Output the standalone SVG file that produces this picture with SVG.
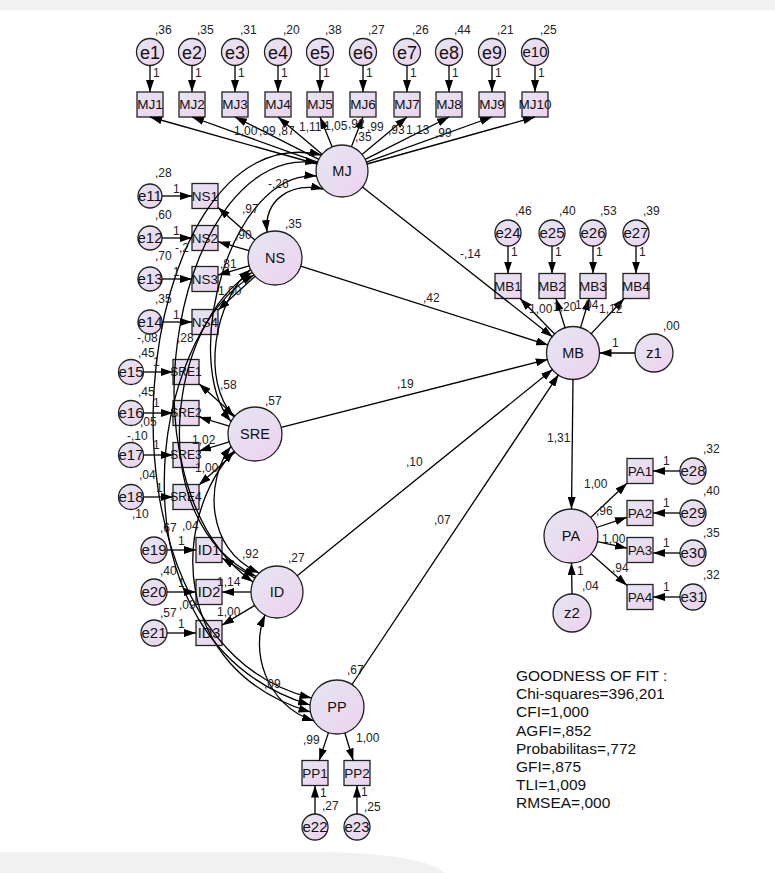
<svg xmlns="http://www.w3.org/2000/svg" width="775" height="873" viewBox="0 0 775 873">
<defs>
<linearGradient id="fg" x1="0" y1="0" x2="1" y2="1"><stop offset="0" stop-color="#e4e6f2"/><stop offset="1" stop-color="#eed2ee"/></linearGradient>
<marker id="ah" viewBox="0 0 12 8" refX="12" refY="4" markerWidth="12" markerHeight="8" markerUnits="userSpaceOnUse" orient="auto-start-reverse"><path d="M0,0 L12,4 L0,8 Z" fill="#000"/></marker>
</defs>
<style>
.n circle, .n rect { fill:url(#fg); stroke:#222; stroke-width:1.3; }
text { font-family:"Liberation Sans", Arial, sans-serif; fill:#222; }
.n text.t { text-anchor:middle; fill:#111; }
.v { font-size:12px; }
.a { fill:none; stroke:#000; stroke-width:1.3; marker-end:url(#ah); }
.c { fill:none; stroke:#000; stroke-width:1.3; marker-start:url(#ah); marker-end:url(#ah); }
.gof { font-size:15.5px; fill:#111; }
.s18 { font-size:18px; } .s15 { font-size:15px; } .s14 { font-size:14.5px; } .s13 { font-size:13.5px; } .s12 { font-size:12px; }
</style>
<rect x="0" y="0" width="775" height="873" fill="#fff"/>
<rect x="0" y="0" width="775" height="10" fill="#f1f1f1"/>
<path d="M0,852 L310,852 Q420,852 445,873 L0,873 Z" fill="#f1f1f1"/>

<g id="nodes">
<g id="e1" class="n"><circle cx="150" cy="52" r="13.5"/><text class="t s18" x="150" y="58.5">e1</text><text class="v" x="155" y="34">,36</text></g>
<g id="e2" class="n"><circle cx="192" cy="52" r="13.5"/><text class="t s18" x="192" y="58.5">e2</text><text class="v" x="197" y="34">,35</text></g>
<g id="e3" class="n"><circle cx="235" cy="52" r="13.5"/><text class="t s18" x="235" y="58.5">e3</text><text class="v" x="240" y="34">,31</text></g>
<g id="e4" class="n"><circle cx="278" cy="52" r="13.5"/><text class="t s18" x="278" y="58.5">e4</text><text class="v" x="283" y="34">,20</text></g>
<g id="e5" class="n"><circle cx="320" cy="52" r="13.5"/><text class="t s18" x="320" y="58.5">e5</text><text class="v" x="325" y="34">,38</text></g>
<g id="e6" class="n"><circle cx="363" cy="52" r="13.5"/><text class="t s18" x="363" y="58.5">e6</text><text class="v" x="368" y="34">,27</text></g>
<g id="e7" class="n"><circle cx="407" cy="52" r="13.5"/><text class="t s18" x="407" y="58.5">e7</text><text class="v" x="412" y="34">,26</text></g>
<g id="e8" class="n"><circle cx="449" cy="52" r="13.5"/><text class="t s18" x="449" y="58.5">e8</text><text class="v" x="454" y="34">,44</text></g>
<g id="e9" class="n"><circle cx="492" cy="52" r="13.5"/><text class="t s18" x="492" y="58.5">e9</text><text class="v" x="497" y="34">,21</text></g>
<g id="e10" class="n"><circle cx="535" cy="52" r="13.5"/><text class="t s15" x="535" y="57.4">e10</text><text class="v" x="540" y="34">,25</text></g>

<g id="MJ1" class="n"><rect x="137" y="92" width="26" height="25"/><text class="t s13" x="150" y="109.3">MJ1</text></g>
<g id="MJ2" class="n"><rect x="179" y="92" width="26" height="25"/><text class="t s13" x="192" y="109.3">MJ2</text></g>
<g id="MJ3" class="n"><rect x="222" y="92" width="26" height="25"/><text class="t s13" x="235" y="109.3">MJ3</text></g>
<g id="MJ4" class="n"><rect x="265" y="92" width="26" height="25"/><text class="t s13" x="278" y="109.3">MJ4</text></g>
<g id="MJ5" class="n"><rect x="307" y="92" width="26" height="25"/><text class="t s13" x="320" y="109.3">MJ5</text></g>
<g id="MJ6" class="n"><rect x="350" y="92" width="26" height="25"/><text class="t s13" x="363" y="109.3">MJ6</text></g>
<g id="MJ7" class="n"><rect x="394" y="92" width="26" height="25"/><text class="t s13" x="407" y="109.3">MJ7</text></g>
<g id="MJ8" class="n"><rect x="436" y="92" width="26" height="25"/><text class="t s13" x="449" y="109.3">MJ8</text></g>
<g id="MJ9" class="n"><rect x="479" y="92" width="26" height="25"/><text class="t s13" x="492" y="109.3">MJ9</text></g>
<g id="MJ10" class="n"><rect x="522" y="92" width="26" height="25"/><text class="t s13" x="535" y="109.3">MJ10</text></g>

<g id="MJ" class="n"><circle cx="342" cy="171" r="26"/><text class="t s14" x="342" y="176.2">MJ</text><text class="v" x="355" y="141">,35</text></g>

<g id="e11" class="n"><circle cx="150" cy="196" r="12"/><text class="t s15" x="150" y="201.4">e11</text><text class="v" x="155" y="177">,28</text></g>
<g id="e12" class="n"><circle cx="150" cy="238" r="12"/><text class="t s15" x="150" y="243.4">e12</text><text class="v" x="155" y="219">,60</text></g>
<g id="e13" class="n"><circle cx="150" cy="279" r="12"/><text class="t s15" x="150" y="284.4">e13</text><text class="v" x="155" y="260">,70</text></g>
<g id="e14" class="n"><circle cx="150" cy="322" r="12"/><text class="t s15" x="150" y="327.4">e14</text><text class="v" x="155" y="303">,35</text></g>
<g id="NS1" class="n"><rect x="192" y="183.5" width="26" height="25"/><text class="t s13" x="205" y="200.8">NS1</text></g>
<g id="NS2" class="n"><rect x="192" y="225.5" width="26" height="25"/><text class="t s13" x="205" y="242.8">NS2</text></g>
<g id="NS3" class="n"><rect x="192" y="266.5" width="26" height="25"/><text class="t s13" x="205" y="283.8">NS3</text></g>
<g id="NS4" class="n"><rect x="192" y="309.5" width="26" height="25"/><text class="t s13" x="205" y="326.8">NS4</text></g>
<g id="NS" class="n"><circle cx="275" cy="258" r="27"/><text class="t s14" x="275" y="263.2">NS</text><text class="v" x="285" y="228">,35</text></g>

<g id="e15" class="n"><circle cx="131" cy="372" r="12.5"/><text class="t s15" x="131" y="377.4">e15</text><text class="v" x="138" y="357">,45</text></g>
<g id="e16" class="n"><circle cx="131" cy="413" r="12.5"/><text class="t s15" x="131" y="418.4">e16</text><text class="v" x="138" y="396">,45</text></g>
<g id="e17" class="n"><circle cx="131" cy="455" r="12.5"/><text class="t s15" x="131" y="460.4">e17</text><text class="v" x="127" y="440">-,10</text></g>
<g id="e18" class="n"><circle cx="131" cy="497" r="12.5"/><text class="t s15" x="131" y="502.4">e18</text><text class="v" x="139" y="479">,04</text></g>
<g id="SRE1" class="n"><rect x="173" y="359.5" width="26" height="25"/><text class="t s12" x="186" y="376.3">SRE1</text></g>
<g id="SRE2" class="n"><rect x="173" y="400.5" width="26" height="25"/><text class="t s12" x="186" y="417.3">SRE2</text></g>
<g id="SRE3" class="n"><rect x="173" y="442.5" width="26" height="25"/><text class="t s12" x="186" y="459.3">SRE3</text></g>
<g id="SRE4" class="n"><rect x="173" y="484.5" width="26" height="25"/><text class="t s12" x="186" y="501.3">SRE4</text></g>
<g id="SRE" class="n"><circle cx="255" cy="434" r="27"/><text class="t s14" x="255" y="439.2">SRE</text><text class="v" x="265" y="405">,57</text></g>

<g id="e19" class="n"><circle cx="154" cy="550" r="13"/><text class="t s15" x="154" y="555.4">e19</text><text class="v" x="160" y="532">,67</text></g>
<g id="e20" class="n"><circle cx="154" cy="592" r="13"/><text class="t s15" x="154" y="597.4">e20</text><text class="v" x="160" y="575">,40</text></g>
<g id="e21" class="n"><circle cx="154" cy="633" r="13"/><text class="t s15" x="154" y="638.4">e21</text><text class="v" x="160" y="617">,57</text></g>
<g id="ID1" class="n"><rect x="196" y="537.5" width="26" height="25"/><text class="t s14" x="209" y="555.2">ID1</text></g>
<g id="ID2" class="n"><rect x="196" y="579.5" width="26" height="25"/><text class="t s14" x="209" y="597.2">ID2</text></g>
<g id="ID3" class="n"><rect x="196" y="620.5" width="26" height="25"/><text class="t s14" x="209" y="638.2">ID3</text></g>
<g id="ID" class="n"><circle cx="277" cy="592" r="26"/><text class="t s14" x="277" y="597.2">ID</text><text class="v" x="288" y="562">,27</text></g>

<g id="PP" class="n"><circle cx="337" cy="707" r="27"/><text class="t s14" x="337" y="712.2">PP</text><text class="v" x="347" y="674">,67</text></g>
<g id="PP1" class="n"><rect x="302" y="760.5" width="26" height="25"/><text class="t s13" x="315" y="777.8">PP1</text></g>
<g id="PP2" class="n"><rect x="344" y="760.5" width="26" height="25"/><text class="t s13" x="357" y="777.8">PP2</text></g>
<g id="e22" class="n"><circle cx="315" cy="827" r="13"/><text class="t s15" x="315" y="832.4">e22</text><text class="v" x="322" y="810">,27</text></g>
<g id="e23" class="n"><circle cx="357" cy="827" r="13"/><text class="t s15" x="357" y="832.4">e23</text><text class="v" x="364" y="811">,25</text></g>

<g id="e24" class="n"><circle cx="508" cy="233" r="13"/><text class="t s15" x="508" y="238.4">e24</text><text class="v" x="515" y="215">,46</text></g>
<g id="e25" class="n"><circle cx="552" cy="233" r="13"/><text class="t s15" x="552" y="238.4">e25</text><text class="v" x="559" y="215">,40</text></g>
<g id="e26" class="n"><circle cx="593" cy="233" r="13"/><text class="t s15" x="593" y="238.4">e26</text><text class="v" x="600" y="215">,53</text></g>
<g id="e27" class="n"><circle cx="636" cy="233" r="13"/><text class="t s15" x="636" y="238.4">e27</text><text class="v" x="643" y="215">,39</text></g>
<g id="MB1" class="n"><rect x="495" y="273.5" width="26" height="25"/><text class="t s13" x="508" y="290.8">MB1</text></g>
<g id="MB2" class="n"><rect x="539" y="273.5" width="26" height="25"/><text class="t s13" x="552" y="290.8">MB2</text></g>
<g id="MB3" class="n"><rect x="580" y="273.5" width="26" height="25"/><text class="t s13" x="593" y="290.8">MB3</text></g>
<g id="MB4" class="n"><rect x="623" y="273.5" width="26" height="25"/><text class="t s13" x="636" y="290.8">MB4</text></g>
<g id="MB" class="n"><circle cx="573" cy="353" r="26.5"/><text class="t s14" x="573" y="358.2">MB</text></g>
<g id="z1" class="n"><circle cx="654" cy="353" r="19"/><text class="t s15" x="654" y="358.4">z1</text><text class="v" x="663" y="330">,00</text></g>

<g id="PA" class="n"><circle cx="571" cy="536" r="27"/><text class="t s14" x="571" y="541.2">PA</text></g>
<g id="PA1" class="n"><rect x="627" y="458.5" width="26" height="25"/><text class="t s13" x="640" y="475.8">PA1</text></g>
<g id="PA2" class="n"><rect x="627" y="500.5" width="26" height="25"/><text class="t s13" x="640" y="517.8">PA2</text></g>
<g id="PA3" class="n"><rect x="627" y="537.5" width="26" height="25"/><text class="t s13" x="640" y="554.8">PA3</text></g>
<g id="PA4" class="n"><rect x="627" y="584.5" width="26" height="25"/><text class="t s13" x="640" y="601.8">PA4</text></g>
<g id="e28" class="n"><circle cx="693" cy="471" r="13"/><text class="t s15" x="693" y="476.4">e28</text><text class="v" x="703" y="453">,32</text></g>
<g id="e29" class="n"><circle cx="693" cy="513" r="13"/><text class="t s15" x="693" y="518.4">e29</text><text class="v" x="703" y="495">,40</text></g>
<g id="e30" class="n"><circle cx="693" cy="553" r="13"/><text class="t s15" x="693" y="558.4">e30</text><text class="v" x="703" y="537">,35</text></g>
<g id="e31" class="n"><circle cx="693" cy="597" r="13"/><text class="t s15" x="693" y="602.4">e31</text><text class="v" x="703" y="579">,32</text></g>
<g id="z2" class="n"><circle cx="572" cy="613" r="19"/><text class="t s15" x="572" y="618.4">z2</text><text class="v" x="582" y="590">,04</text></g>
</g>

<g id="connectors">
<line class="a" x1="150" y1="65.5" x2="150" y2="92"/>
<line class="a" x1="192" y1="65.5" x2="192" y2="92"/>
<line class="a" x1="235" y1="65.5" x2="235" y2="92"/>
<line class="a" x1="278" y1="65.5" x2="278" y2="92"/>
<line class="a" x1="320" y1="65.5" x2="320" y2="92"/>
<line class="a" x1="363" y1="65.5" x2="363" y2="92"/>
<line class="a" x1="407" y1="65.5" x2="407" y2="92"/>
<line class="a" x1="449" y1="65.5" x2="449" y2="92"/>
<line class="a" x1="492" y1="65.5" x2="492" y2="92"/>
<line class="a" x1="535" y1="65.5" x2="535" y2="92"/>
<line class="a" x1="317" y1="164" x2="150" y2="117"/>
<line class="a" x1="317.5" y1="162.2" x2="192" y2="117"/>
<line class="a" x1="318.8" y1="159.3" x2="235" y2="117"/>
<line class="a" x1="322.1" y1="154.2" x2="278" y2="117"/>
<line class="a" x1="332.2" y1="146.9" x2="320" y2="117"/>
<line class="a" x1="351.4" y1="146.7" x2="363" y2="117"/>
<line class="a" x1="362" y1="154.4" x2="407" y2="117"/>
<line class="a" x1="365.2" y1="159.3" x2="449" y2="117"/>
<line class="a" x1="366.5" y1="162.2" x2="492" y2="117"/>
<line class="a" x1="367" y1="164" x2="535" y2="117"/>
<line class="a" x1="162" y1="196" x2="192" y2="196"/>
<line class="a" x1="162" y1="238" x2="192" y2="238"/>
<line class="a" x1="162" y1="279" x2="192" y2="279"/>
<line class="a" x1="162" y1="322" x2="192" y2="322"/>
<line class="a" x1="254.8" y1="240.1" x2="218" y2="207.5"/>
<line class="a" x1="249" y1="250.6" x2="218" y2="241.7"/>
<line class="a" x1="249.1" y1="265.8" x2="218" y2="275.1"/>
<line class="a" x1="255.1" y1="276.2" x2="218" y2="310.1"/>
<line class="a" x1="143.5" y1="372" x2="173" y2="372"/>
<line class="a" x1="143.5" y1="413" x2="173" y2="413"/>
<line class="a" x1="143.5" y1="455" x2="173" y2="455"/>
<line class="a" x1="143.5" y1="497" x2="173" y2="497"/>
<line class="a" x1="234.9" y1="416" x2="199" y2="383.7"/>
<line class="a" x1="229.2" y1="426.1" x2="199" y2="417"/>
<line class="a" x1="229.2" y1="441.9" x2="199" y2="451"/>
<line class="a" x1="235" y1="452.2" x2="199" y2="485.1"/>
<line class="a" x1="167" y1="550" x2="196" y2="550"/>
<line class="a" x1="167" y1="592" x2="196" y2="592"/>
<line class="a" x1="167" y1="633" x2="196" y2="633"/>
<line class="a" x1="254.9" y1="578.3" x2="222" y2="558"/>
<line class="a" x1="251" y1="592" x2="222" y2="592"/>
<line class="a" x1="254.7" y1="605.4" x2="222" y2="625.2"/>
<line class="a" x1="328.5" y1="732.6" x2="319.2" y2="760.5"/>
<line class="a" x1="344.8" y1="732.8" x2="353.2" y2="760.5"/>
<line class="a" x1="315" y1="814" x2="315" y2="785.5"/>
<line class="a" x1="357" y1="814" x2="357" y2="785.5"/>
<line class="a" x1="508" y1="246" x2="508" y2="273.5"/>
<line class="a" x1="552" y1="246" x2="552" y2="273.5"/>
<line class="a" x1="593" y1="246" x2="593" y2="273.5"/>
<line class="a" x1="636" y1="246" x2="636" y2="273.5"/>
<line class="a" x1="554.9" y1="334.3" x2="520.1" y2="298.5"/>
<line class="a" x1="565.2" y1="328.2" x2="555.9" y2="298.5"/>
<line class="a" x1="580.4" y1="328.1" x2="589.3" y2="298.5"/>
<line class="a" x1="590.8" y1="334.1" x2="624.2" y2="298.5"/>
<line class="a" x1="635" y1="353" x2="599.5" y2="353"/>
<line class="a" x1="362.4" y1="187.1" x2="552.6" y2="336.9"/>
<line class="a" x1="300.7" y1="266.2" x2="548.2" y2="345.1"/>
<line class="a" x1="281.2" y1="427.3" x2="547.8" y2="359.4"/>
<line class="a" x1="297.2" y1="575.7" x2="552.8" y2="369.3"/>
<line class="a" x1="352" y1="684.5" x2="558.6" y2="374.6"/>
<line class="a" x1="573" y1="379.5" x2="571.5" y2="509"/>
<line class="a" x1="590.7" y1="517.5" x2="627" y2="483.2"/>
<line class="a" x1="596.6" y1="527.5" x2="627" y2="517.3"/>
<line class="a" x1="597.4" y1="541.7" x2="627" y2="548.2"/>
<line class="a" x1="591.2" y1="553.9" x2="627" y2="585.5"/>
<line class="a" x1="680" y1="471" x2="653" y2="471"/>
<line class="a" x1="680" y1="513" x2="653" y2="513"/>
<line class="a" x1="680" y1="553" x2="653" y2="553"/>
<line class="a" x1="680" y1="597" x2="653" y2="597"/>
<line class="a" x1="572" y1="594" x2="571.5" y2="563"/>
<path class="c" d="M267,232 C264,200 290,182 323,189"/>
<path class="c" d="M316.5,176 C230,170 180,360 231,421.6"/>
<path class="c" d="M317.3,163 C180,140 110,480 253,582"/>
<path class="c" d="M321.5,155 C130,110 70,640 311.5,698"/>
<path class="c" d="M250.5,269.5 C215,300 200,380 234,417"/>
<path class="c" d="M252,272.5 C170,320 140,520 256,576.4"/>
<path class="c" d="M254,275 C150,330 100,640 310,705"/>
<path class="c" d="M231,446.4 C205,480 205,550 259.5,573"/>
<path class="c" d="M234,451 C170,520 170,670 310.5,712"/>
<path class="c" d="M265,615 C250,650 265,705 314,721"/>
</g>

<g id="labels" class="v">
<text x="153" y="77">1</text><text x="195" y="77">1</text><text x="238" y="77">1</text><text x="281" y="77">1</text><text x="323" y="77">1</text>
<text x="366" y="77">1</text><text x="410" y="77">1</text><text x="452" y="77">1</text><text x="495" y="77">1</text><text x="538" y="77">1</text>
<text x="173" y="193">1</text><text x="173" y="235">1</text><text x="173" y="276">1</text><text x="173" y="319">1</text>
<text x="153" y="366">1</text><text x="153" y="407">1</text><text x="153" y="449">1</text><text x="156" y="492">1</text>
<text x="178" y="545">1</text><text x="178" y="587">1</text><text x="178" y="628">1</text>
<text x="320" y="797">1</text><text x="361" y="796">1</text>
<text x="511" y="256">1</text><text x="555" y="256">1</text><text x="596" y="256">1</text><text x="639" y="256">1</text>
<text x="612" y="347">1</text>
<text x="663" y="465">1</text><text x="663" y="507">1</text><text x="663" y="547">1</text><text x="663" y="591">1</text>
<text x="577" y="575">1</text>
<text x="234" y="135">1,00</text><text x="259" y="135">,99</text><text x="278" y="135">,87</text><text x="299" y="131">1,11</text>
<text x="324" y="130">1,05</text><text x="348" y="128">,92</text><text x="367" y="131">,99</text>
<text x="388" y="134">,93</text><text x="406" y="134">1,13</text><text x="435" y="137">,99</text>
<text x="242" y="213">,97</text><text x="235" y="239">,90</text><text x="220" y="268">,81</text><text x="218" y="295">1,00</text>
<text x="175" y="252">-,2</text>
<text x="268" y="188">-,26</text>
<text x="137" y="342">-,08</text><text x="177" y="342">,28</text>
<text x="140" y="426">,05</text><text x="132" y="518">,10</text>
<text x="182" y="530">,04</text><text x="179" y="609">,09</text>
<text x="264" y="688">,09</text>
<text x="220" y="389">,58</text><text x="192" y="444">1,02</text><text x="195" y="472">1,00</text>
<text x="242" y="558">,92</text><text x="217" y="586">1,14</text><text x="217" y="616">1,00</text>
<text x="303" y="744">,99</text><text x="356" y="742">1,00</text>
<text x="529" y="313">1,00</text><text x="553" y="311">1,20</text><text x="575" y="309">1,04</text><text x="599" y="313">1,12</text>
<text x="460" y="258">-,14</text><text x="423" y="302">,42</text><text x="397" y="388">,19</text><text x="406" y="466">,10</text><text x="434" y="524">,07</text>
<text x="547" y="442">1,31</text>
<text x="584" y="488">1,00</text><text x="596" y="515">,96</text><text x="602" y="543">1,00</text><text x="612" y="572">,94</text>
</g>

<g id="fit">
<text class="gof" x="516" y="681">GOODNESS OF FIT :</text>
<text class="gof" x="516" y="699.2">Chi-squares=396,201</text>
<text class="gof" x="516" y="717.4">CFI=1,000</text>
<text class="gof" x="516" y="735.6">AGFI=,852</text>
<text class="gof" x="516" y="753.8">Probabilitas=,772</text>
<text class="gof" x="516" y="772">GFI=,875</text>
<text class="gof" x="516" y="790.2">TLI=1,009</text>
<text class="gof" x="516" y="808.4">RMSEA=,000</text>
</g>
</svg>
